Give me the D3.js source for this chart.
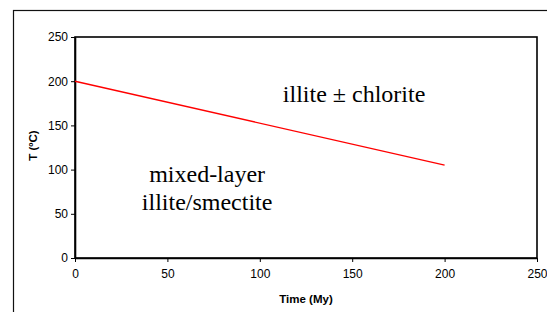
<!DOCTYPE html>
<html>
<head>
<meta charset="utf-8">
<script src="https://cdn.jsdelivr.net/npm/d3@7"></script>
<style>
  body { margin: 0; background: #fff; }
  svg { display: block; }
</style>
</head>
<body>
<div id="chart"></div>
<script>
// data
const timeMy = [0, 200]
const tempC = [200, 105]
const xTicks = [0, 50, 100, 150, 200, 250]
const yTicks = [0, 50, 100, 150, 200, 250]
const zoneLabels = [
  { lines: ['illite \u00b1 chlorite'], x: 151, y: 176.5 },
  { lines: ['mixed-layer', 'illite/smectite'], x: 71.5, y: 86 }
]

let width = 547
let height = 312
let margin = { top: 37, right: 10, bottom: 54, left: 75 }
let plotW = 537 - margin.left
let plotH = 258 - margin.top

let svg = d3.select('#chart')
  .append('svg')
  .attr('width', width)
  .attr('height', height)

// outer frame of the embedded chart object
svg.append('rect')
  .attr('x', 13.5)
  .attr('y', 10.5)
  .attr('width', 560)
  .attr('height', 320)
  .attr('fill', 'none')
  .attr('stroke', '#111')
  .attr('stroke-width', 1.2)

let g = svg.append('g')
  .attr('transform', `translate(${margin.left},${margin.top})`)

let xScale = d3.scaleLinear().domain([0, 250]).range([0, plotW])
let yScale = d3.scaleLinear().domain([0, 250]).range([plotH, 0])

// plot area border
g.append('rect')
  .attr('width', plotW)
  .attr('height', plotH)
  .attr('fill', 'none')
  .attr('stroke', '#000')
  .attr('stroke-width', 1.6)

let xAxis = d3.axisBottom(xScale)
  .tickValues(xTicks)
  .tickSize(4)
  .tickSizeOuter(0)

let yAxis = d3.axisLeft(yScale)
  .tickValues(yTicks)
  .tickSize(4)
  .tickSizeOuter(0)

let gx = g.append('g')
  .attr('transform', `translate(0,${plotH})`)
  .call(xAxis)
let gy = g.append('g').call(yAxis)

;[gx, gy].forEach(ax => {
  ax.select('.domain').attr('stroke', '#000').attr('stroke-width', 1.6)
  ax.selectAll('.tick line').attr('stroke', '#000')
  ax.selectAll('.tick text')
    .attr('font-family', 'Liberation Sans, Arial, sans-serif')
    .attr('font-size', 12)
    .attr('fill', '#000')
})
gx.selectAll('.tick text').attr('dy', '1.1em')
gy.selectAll('.tick text').attr('x', -7)

// axis titles
g.append('text')
  .attr('x', plotW / 2)
  .attr('y', plotH + 45)
  .attr('text-anchor', 'middle')
  .attr('font-family', 'Liberation Sans, Arial, sans-serif')
  .attr('font-weight', 'bold')
  .attr('font-size', 11.5)
  .text('Time (My)')

g.append('text')
  .attr('transform', `translate(-38,${plotH / 2 - 2}) rotate(-90)`)
  .attr('text-anchor', 'middle')
  .attr('font-family', 'Liberation Sans, Arial, sans-serif')
  .attr('font-weight', 'bold')
  .attr('font-size', 11.5)
  .text('T (\u00baC)')

// boundary line
let line = d3.line()
  .x((d, i) => xScale(timeMy[i]))
  .y(d => yScale(d))

g.append('path')
  .datum(tempC)
  .attr('d', line)
  .attr('fill', 'none')
  .attr('stroke', '#ff0000')
  .attr('stroke-width', 1.4)

// zone labels
zoneLabels.forEach(z => {
  let t = g.append('text')
    .attr('text-anchor', 'middle')
    .attr('font-family', 'Liberation Serif, Times New Roman, serif')
    .attr('font-size', 24)
    .attr('fill', '#000')
  z.lines.forEach((s, i) => {
    t.append('tspan')
      .attr('x', xScale(z.x))
      .attr('y', yScale(z.y) + i * 28)
      .text(s)
  })
})
</script>
</body>
</html>
